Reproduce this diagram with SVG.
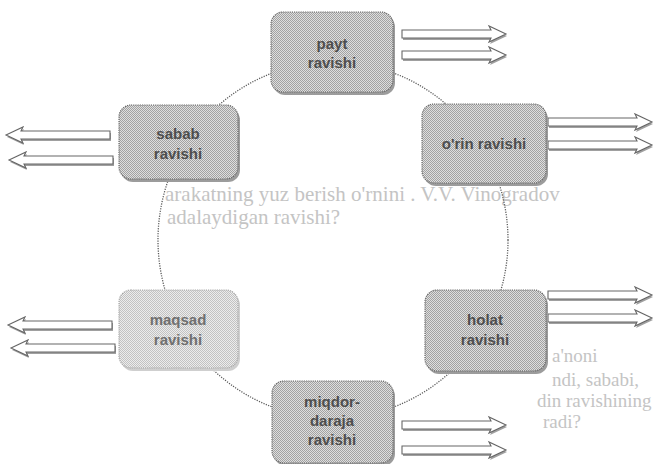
<svg xmlns="http://www.w3.org/2000/svg" width="654" height="464" viewBox="0 0 654 464">
<defs>
<pattern id="ht" width="2" height="2" patternUnits="userSpaceOnUse"><rect width="2" height="2" fill="#dedede"/><rect width="1" height="1" fill="#a2a2a2"/><rect x="1" y="1" width="1" height="1" fill="#a2a2a2"/></pattern>
<pattern id="htl" width="2" height="2" patternUnits="userSpaceOnUse"><rect width="2" height="2" fill="#ececec"/><rect width="1" height="1" fill="#c2c2c2"/><rect x="1" y="1" width="1" height="1" fill="#c2c2c2"/></pattern>
<path id="ar" d="M0,-4 H89 L87,-8 L104,0 L87,8 L89,4 H0 Z"/>
</defs>
<style>
.bg{font-family:"Liberation Serif",serif;font-size:19px;fill:#c4c4c4}
.box{fill:url(#ht);stroke:#6a6a6a;stroke-width:1.2;stroke-dasharray:1.2 1}
.boxl{fill:url(#htl);stroke:#a8a8a8;stroke-width:1.2;stroke-dasharray:1.2 1}
.sh{fill:#9c9c9c}
.shl{fill:#cfcfcf}
.lbl{font-family:"Liberation Sans",Arial,sans-serif;font-weight:bold;font-size:15px;fill:#4e4e4e;text-anchor:middle}
.lbll{font-family:"Liberation Sans",Arial,sans-serif;font-weight:bold;font-size:15px;fill:#707070;text-anchor:middle}
.arw{fill:#fff;stroke:#666;stroke-width:1.1}
.arsh{fill:#a0a0a0}
.circ{fill:none;stroke:#5c5c5c;stroke-width:1.3;stroke-dasharray:1.2 1.3}
</style>
<rect width="654" height="464" fill="#fff"/>
<g id="background-text">
<text class="bg" x="165" y="201" style="font-size:21px">arakatning yuz berish o'rnini . V.V. Vinogradov</text>
<text class="bg" x="167" y="224" style="font-size:21px">adalaydigan ravishi?</text>
<text class="bg" x="552" y="362">a'noni</text>
<text class="bg" x="552" y="386">ndi, sababi,</text>
<text class="bg" x="537" y="407">din ravishining</text>
<text class="bg" x="543" y="428">radi?</text>
</g>
<g id="connectors">
<ellipse class="circ" cx="333" cy="240" rx="175" ry="178"/>
</g>
<g id="arrows">
<use href="#ar" class="arsh" transform="translate(403,36)"/><use href="#ar" class="arw" transform="translate(402,34)"/>
<use href="#ar" class="arsh" transform="translate(403,57)"/><use href="#ar" class="arw" transform="translate(402,55)"/>
<use href="#ar" class="arsh" transform="translate(549,124)"/><use href="#ar" class="arw" transform="translate(548,122)"/>
<use href="#ar" class="arsh" transform="translate(549,147)"/><use href="#ar" class="arw" transform="translate(548,145)"/>
<use href="#ar" class="arsh" transform="translate(549,297)"/><use href="#ar" class="arw" transform="translate(548,295)"/>
<use href="#ar" class="arsh" transform="translate(549,320)"/><use href="#ar" class="arw" transform="translate(548,318)"/>
<use href="#ar" class="arsh" transform="translate(403,427)"/><use href="#ar" class="arw" transform="translate(402,425)"/>
<use href="#ar" class="arsh" transform="translate(403,452)"/><use href="#ar" class="arw" transform="translate(402,450)"/>
<use href="#ar" class="arsh" transform="translate(111,137) scale(-1,1)"/><use href="#ar" class="arw" transform="translate(110,135) scale(-1,1)"/>
<use href="#ar" class="arsh" transform="translate(114,162) scale(-1,1)"/><use href="#ar" class="arw" transform="translate(113,160) scale(-1,1)"/>
<use href="#ar" class="arsh" transform="translate(113,327) scale(-1,1)"/><use href="#ar" class="arw" transform="translate(112,325) scale(-1,1)"/>
<use href="#ar" class="arsh" transform="translate(116,350) scale(-1,1)"/><use href="#ar" class="arw" transform="translate(115,348) scale(-1,1)"/>
</g>
<g id="node-payt">
<rect class="sh" x="273" y="15" width="122" height="80" rx="12"/>
<rect class="box" x="271" y="12" width="122" height="80" rx="12"/>
<text class="lbl" x="332" y="49">payt</text>
<text class="lbl" x="332" y="68">ravishi</text>
</g>
<g id="node-orin">
<rect class="sh" x="424" y="107" width="124" height="79" rx="12"/>
<rect class="box" x="422" y="104" width="124" height="79" rx="12"/>
<text class="lbl" x="484" y="149">o'rin ravishi</text>
</g>
<g id="node-sabab">
<rect class="sh" x="121" y="108" width="119" height="74" rx="12"/>
<rect class="box" x="119" y="105" width="119" height="74" rx="12"/>
<text class="lbl" x="178" y="139">sabab</text>
<text class="lbl" x="178" y="159">ravishi</text>
</g>
<g id="node-maqsad">
<rect class="shl" x="121" y="293" width="119" height="78" rx="12"/>
<rect class="boxl" x="119" y="290" width="119" height="78" rx="12"/>
<text class="lbll" x="178" y="325">maqsad</text>
<text class="lbll" x="178" y="345">ravishi</text>
</g>
<g id="node-holat">
<rect class="sh" x="427" y="293" width="121" height="81" rx="12"/>
<rect class="box" x="425" y="290" width="121" height="81" rx="12"/>
<text class="lbl" x="485" y="325">holat</text>
<text class="lbl" x="485" y="345">ravishi</text>
</g>
<g id="node-miqdor">
<rect class="sh" x="274" y="384" width="121" height="82" rx="12"/>
<rect class="box" x="272" y="381" width="121" height="82" rx="12"/>
<text class="lbl" x="332" y="407">miqdor-</text>
<text class="lbl" x="332" y="426">daraja</text>
<text class="lbl" x="332" y="445">ravishi</text>
</g>
</svg>
